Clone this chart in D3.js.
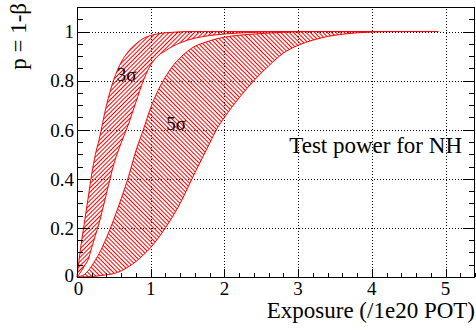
<!DOCTYPE html>
<html><head><meta charset="utf-8">
<script src="https://cdn.jsdelivr.net/npm/d3@7"></script>
<style>body{margin:0;background:#fff}svg{display:block}text{font-family:"Liberation Serif","Times New Roman",serif;fill:#000}</style>
</head><body><svg id="c" width="476" height="331"></svg>
<script>
// ---- data ----
const exposure = [0,0.05,0.1,0.15,0.2,0.25,0.3,0.4,0.5,0.6,0.7,0.8,0.9,1.0,1.1,1.2,1.3,1.4,1.5,1.6,1.7,1.8,1.9,2.0,2.2,2.4,2.6,2.8,3.0,3.2,3.4,3.6,3.8,4.0,4.3,4.6,4.9];
const sig3Upper = [0,0.12,0.22,0.32,0.42,0.5,0.56,0.7,0.805,0.875,0.92,0.95,0.972,0.984,0.991,0.995,0.997,0.999,1,1,1,1,1,1,1,1,1,1,1,1,1,1,1,1,1,1,1];
const sig3Lower = [0,0.02,0.045,0.07,0.12,0.17,0.22,0.34,0.46,0.547,0.624,0.713,0.8,0.864,0.901,0.922,0.94,0.954,0.965,0.973,0.979,0.984,0.987,0.99,0.994,0.997,0.999,1,1,1,1,1,1,1,1,1,1];
const sig5Upper = [0,0.003,0.01,0.025,0.045,0.07,0.095,0.16,0.235,0.32,0.41,0.515,0.6,0.69,0.76,0.815,0.86,0.893,0.92,0.94,0.952,0.962,0.971,0.977,0.985,0.99,0.994,0.997,0.999,1,1,1,1,1,1,1,1];
const sig5Lower = [0,0,0,0.001,0.002,0.003,0.005,0.009,0.014,0.025,0.042,0.063,0.09,0.12,0.158,0.2,0.248,0.3,0.362,0.425,0.485,0.545,0.605,0.65,0.73,0.8,0.86,0.912,0.944,0.965,0.98,0.989,0.995,0.998,1,1,1];
const bandNames = ["3σ","5σ"];
const bandLabelX = [0.54,1.21];
const bandLabelP = [0.8,0.6];
const xTickValues = [0,1,2,3,4,5];
const yTickValues = [0,0.2,0.4,0.6,0.8,1];
const yTickLabels = ["0","0.2","0.4","0.6","0.8","1"];
const xTitle = "Exposure (/1e20 POT)";
const yTitle = "p = 1-β";
const note = "Test power for NH";

// ---- layout ----
const L=77, R=475, T=7, B=277;
const svg = d3.select("#c");
const x = d3.scaleLinear().domain([0,5.4]).range([L,R]);
const y = d3.scaleLinear().domain([0,1.1]).range([B,T]);

const defs = svg.append("defs");
function hatch(id, angle){
  const w=3.0;
  const p = defs.append("pattern").attr("id",id).attr("patternUnits","userSpaceOnUse")
    .attr("width",w).attr("height",w).attr("patternTransform",`rotate(${angle})`);
  p.append("line").attr("x1",w/2).attr("y1",-1).attr("x2",w/2).attr("y2",w+1)
    .attr("stroke","#ff0000").attr("stroke-width",1);
}
hatch("h3",45); hatch("h5",-45);

// grid
const g = svg.append("g");
g.selectAll("line.gx").data(xTickValues.filter(d=>d>0)).join("line")
  .attr("x1",d=>Math.round(x(d))+0.5).attr("x2",d=>Math.round(x(d))+0.5).attr("y1",B).attr("y2",T)
  .attr("stroke","#000").attr("stroke-dasharray","1,2").attr("stroke-width",1);
g.selectAll("line.gy").data(yTickValues.filter(d=>d>0)).join("line")
  .attr("y1",d=>Math.round(y(d))+0.5).attr("y2",d=>Math.round(y(d))+0.5).attr("x1",L).attr("x2",R)
  .attr("stroke","#000").attr("stroke-dasharray","1,2").attr("stroke-width",1);

// bands
const curveLine = d3.line().x(d=>x(d[0])).y(d=>y(d[1])).curve(d3.curveMonotoneX);
function drawBand(up, lo, pat){
  const top = curveLine(exposure.map((e,i)=>[e,up[i]]));
  const bot = curveLine(exposure.map((e,i)=>[e,lo[i]]).reverse());
  const path = top + "L" + bot.slice(1) + "Z";
  svg.append("path").attr("d",path).attr("fill",`url(#${pat})`).attr("stroke","#ff0000").attr("stroke-width",1);
}
drawBand(sig5Upper, sig5Lower, "h5");
drawBand(sig3Upper, sig3Lower, "h3");

// frame
svg.append("rect").attr("x",L+0.5).attr("y",T+0.5).attr("width",R-L-1).attr("height",B-T)
  .attr("fill","none").attr("stroke","#000").attr("stroke-width",1);

// x ticks
const xMinor = d3.range(0,5.41,0.2);
svg.selectAll("line.xt").data(xMinor).join("line")
  .attr("x1",d=>Math.round(x(d))+0.5).attr("x2",d=>Math.round(x(d))+0.5)
  .attr("y1",B).attr("y2",d=>B-(Math.abs(d-Math.round(d))<1e-6?8:4))
  .attr("stroke","#000");
// y ticks left and right
const yMinor = d3.range(0,1.101,0.05);
const isMaj = d=>Math.abs(d*5-Math.round(d*5))<1e-6;
svg.selectAll("line.ytl").data(yMinor).join("line")
  .attr("y1",d=>Math.round(y(d))+0.5).attr("y2",d=>Math.round(y(d))+0.5)
  .attr("x1",L).attr("x2",d=>L+(isMaj(d)?12:6)).attr("stroke","#000");
svg.selectAll("line.ytr").data(yMinor).join("line")
  .attr("y1",d=>Math.round(y(d))+0.5).attr("y2",d=>Math.round(y(d))+0.5)
  .attr("x1",R).attr("x2",d=>R-(isMaj(d)?12:6)).attr("stroke","#000");

// tick labels
svg.selectAll("text.xl").data(xTickValues).join("text")
  .attr("x",d=>x(d)+(d===0?1.5:0)).attr("y",295).attr("text-anchor","middle").attr("font-size",19).text(d=>d);
svg.selectAll("text.yl").data(yTickValues).join("text")
  .attr("x",74).attr("y",d=>y(d)-(d===0?2:0)).attr("dy","0.36em").attr("text-anchor","end").attr("font-size",19)
  .text((d,i)=>yTickLabels[i]);

// titles
svg.append("text").attr("x",475).attr("y",318).attr("text-anchor","end").attr("font-size",23).text(xTitle);
svg.append("text").attr("transform","translate(26,3) rotate(-90)").attr("text-anchor","end").attr("font-size",23).text(yTitle);
svg.append("text").attr("x",462).attr("y",153).attr("text-anchor","end").attr("font-size",23).text(note);

// band labels
svg.selectAll("text.bl").data(bandNames).join("text")
  .attr("x",(d,i)=>x(bandLabelX[i])).attr("y",(d,i)=>y(bandLabelP[i])).attr("font-size",19).text(d=>d);
</script></body></html>
